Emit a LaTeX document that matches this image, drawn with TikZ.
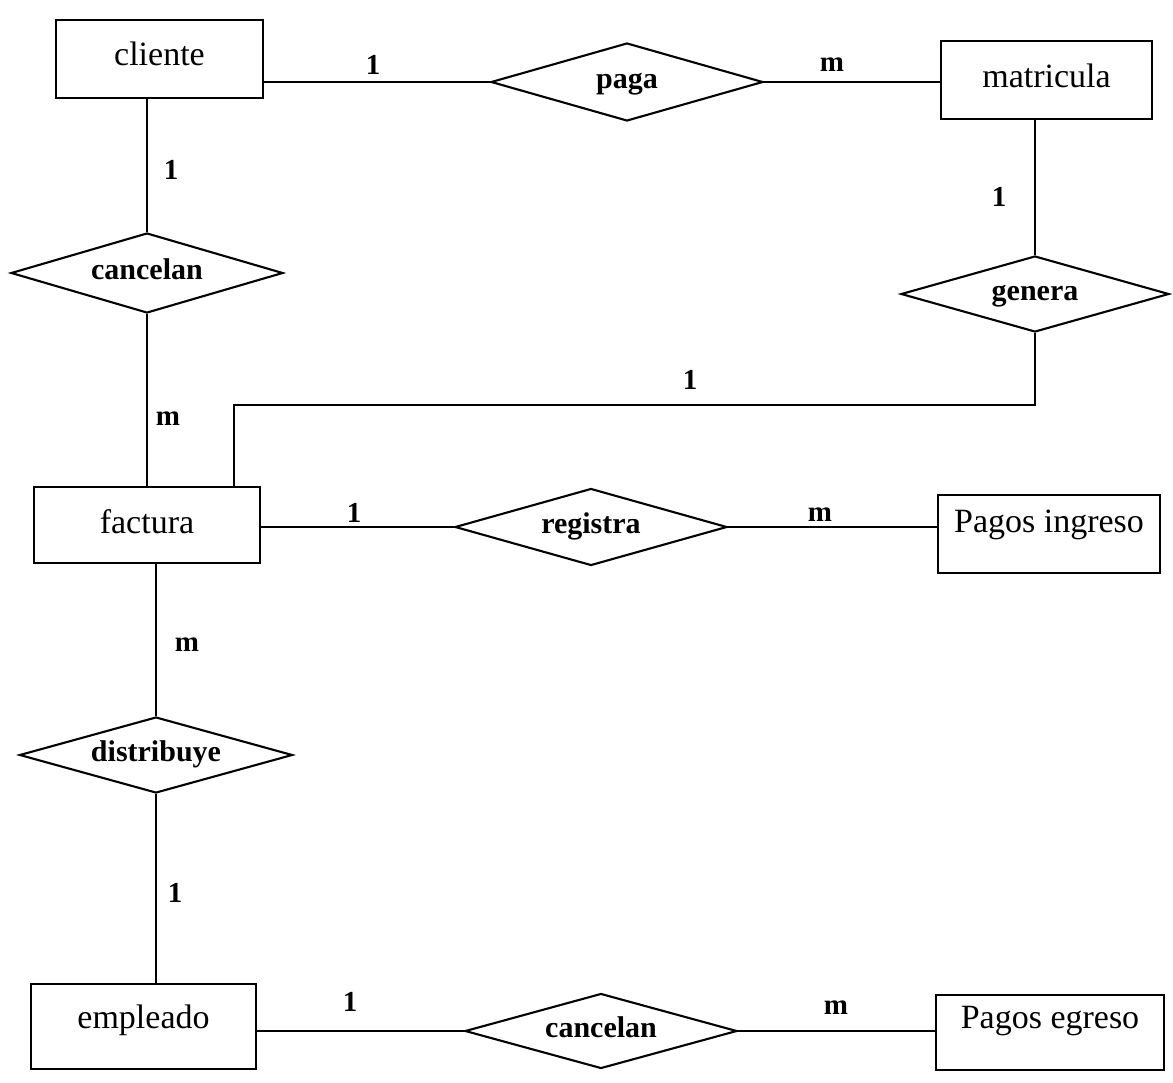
\documentclass[tikz,border=0pt]{standalone}
\usepackage{fontspec}
\setmainfont{Liberation Serif}
\usetikzlibrary{shapes.geometric}
\begin{document}
\begin{tikzpicture}[x=1pt,y=-1pt,
  entity/.style={draw, line width=1.8pt, rectangle, inner sep=0pt, font=\fontsize{34}{40}\selectfont},
  rel/.style={draw, line width=2.1pt, diamond, aspect=3.5, inner sep=0pt, minimum width=272pt,
    font=\bfseries\fontsize{30}{35}\selectfont, text height=19pt, text depth=6pt},
  card/.style={font=\bfseries\fontsize{29}{33}\selectfont, inner sep=0pt},
  conn/.style={line width=1.9pt}]
\useasboundingbox (0,0) rectangle (1173,1082);
% entities
\node[entity, minimum width=207pt, text height=45pt, text depth=33pt] (cliente) at (159.5,59) {cliente};
\node[entity, minimum width=211pt, text height=46pt, text depth=32pt] (matricula) at (1046.5,80) {matricula};
\node[entity, minimum width=226pt, text height=46pt, text depth=30pt] (factura) at (147,525) {factura};
\node[entity, minimum width=222pt, text height=37pt, text depth=41pt] (pin) at (1049,534) {Pagos ingreso};
\node[entity, minimum width=225pt, text height=44pt, text depth=41pt] (empleado) at (143.5,1026.5) {empleado};
\node[entity, minimum width=228pt, text height=33pt, text depth=42pt] (peg) at (1050,1032.5) {Pagos egreso};
% relationships
\node[rel, minimum height=78pt] (paga) at (627,82) {paga};
\node[rel, minimum width=268pt, minimum height=76pt] (genera) at (1035,294) {genera};
\node[rel, minimum height=80pt] (cancelanA) at (147,273) {cancelan};
\node[rel, minimum height=77pt] (registra) at (591,527) {registra};
\node[rel, minimum width=273pt, minimum height=76pt] (distribuye) at (156,755) {distribuye};
\node[rel, minimum height=75pt] (cancelanB) at (601,1031) {cancelan};
% connectors
\draw[conn] (paga.west) -- (paga.west -| cliente.east);
\draw[conn] (paga.east) -- (paga.east -| matricula.west);
\draw[conn] (cancelanA.north) -- (cancelanA.north |- cliente.south);
\draw[conn] (genera.north) -- (genera.north |- matricula.south);
\draw[conn] (cancelanA.south) -- (cancelanA.south |- factura.north);
\coordinate (gf) at (234,405);
\draw[conn] (genera.south) |- (gf) -- (gf |- factura.north);
\draw[conn] (registra.west) -- (registra.west -| factura.east);
\draw[conn] (registra.east) -- (registra.east -| pin.west);
\draw[conn] (distribuye.north) -- (distribuye.north |- factura.south);
\draw[conn] (distribuye.south) -- (distribuye.south |- empleado.north);
\draw[conn] (cancelanB.west) -- (cancelanB.west -| empleado.east);
\draw[conn] (cancelanB.east) -- (cancelanB.east -| peg.west);
% cardinalities
\node[card] (c1) at (373,65) {1};
\node[card] (c2) at (832,65) {m};
\node[card] (c3) at (171,170) {1};
\node[card] (c4) at (999,197) {1};
\node[card] (c5) at (168,419) {m};
\node[card] (c6) at (690,380) {1};
\node[card] (c7) at (354,513) {1};
\node[card] (c8) at (820,515) {m};
\node[card] (c9) at (187,645) {m};
\node[card] (c10) at (175,893) {1};
\node[card] (c11) at (350,1002) {1};
\node[card] (c12) at (836,1008) {m};
\end{tikzpicture}
\end{document}
